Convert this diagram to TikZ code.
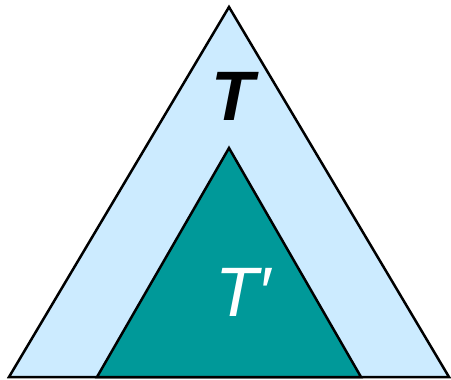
\documentclass[tikz,border=0pt]{standalone}
\usepackage{fontspec}
\setmainfont{Liberation Sans}
\definecolor{lightblue}{HTML}{CCEBFF}
\definecolor{tealfill}{HTML}{009999}
\begin{document}
\begin{tikzpicture}[x=1pt,y=-1pt,
  tri/.style={draw=black,line width=2.5pt,line join=miter},
  lbl/.style={inner sep=0pt,anchor=base,font=\fontsize{70}{70}\selectfont\itshape}]
\useasboundingbox (0,0) rectangle (451,380);
\coordinate (oa) at (229,7);
\coordinate (ol) at (9,377);
\coordinate (or) at (449,377);
\coordinate (ia) at (229,148);
\coordinate (il) at (97,377);
\coordinate (ir) at (361,377);
\filldraw[tri,fill=lightblue] (oa) -- (ol) -- (or) -- cycle;
\filldraw[tri,fill=tealfill] (ia) -- (il) -- (ir) -- cycle;
\node[lbl,font=\fontsize{70}{70}\selectfont\bfseries\itshape] (t) at (233,121) {T};
\node[lbl,text=white] (tp) at (243,316) {T\symbol{"2032}};
\end{tikzpicture}
\end{document}
